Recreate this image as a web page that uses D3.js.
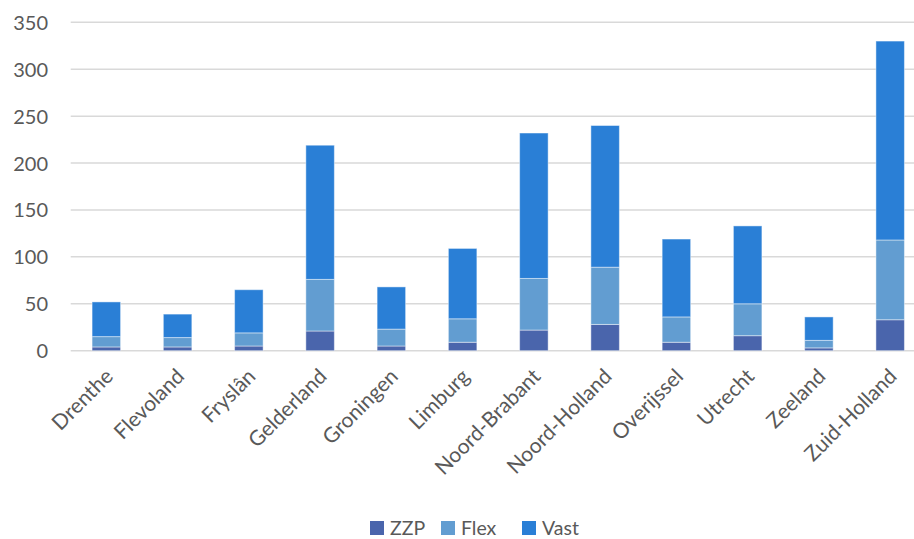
<!DOCTYPE html>
<html>
<head>
<meta charset="utf-8">
<script src="https://cdn.jsdelivr.net/npm/d3@7"></script>
<style>
  html, body { margin: 0; padding: 0; background: #ffffff; }
  svg { display: block; font-family: Lato, "Open Sans", sans-serif; }
</style>
</head>
<body>
<svg id="chart" width="914" height="539"></svg>
<script>
// Provinces and the stacked employment segments per province
const provinces = ["Drenthe", "Flevoland", "Fryslân", "Gelderland", "Groningen", "Limburg",
  "Noord-Brabant", "Noord-Holland", "Overijssel", "Utrecht", "Zeeland", "Zuid-Holland"];
const zzp  = [4, 4, 5, 21, 5, 9, 22, 28, 9, 16, 3, 33];
const flex = [11, 10, 14, 55, 18, 25, 55, 61, 27, 34, 8, 85];
const vast = [37, 25, 46, 143, 45, 75, 155, 151, 83, 83, 25, 212];
const seriesNames = ["ZZP", "Flex", "Vast"];
const seriesColors = ["#4a65ac", "#629dd1", "#2a7fd6"];
const yTicks = [0, 50, 100, 150, 200, 250, 300, 350];

const svg = d3.select("#chart");
const plot = { left: 70.7, right: 925.8, top: 22.3, bottom: 350.7 };

const rows = provinces.map((p, i) => ({ province: p, ZZP: zzp[i], Flex: flex[i], Vast: vast[i] }));
const stacked = d3.stack().keys(seriesNames)(rows);

const x = d3.scaleBand().domain(provinces).range([plot.left, plot.right])
  .paddingInner(0.6).paddingOuter(0.3);
const y = d3.scaleLinear().domain([0, 350]).range([plot.bottom, plot.top]);
const color = d3.scaleOrdinal().domain(seriesNames).range(seriesColors);

// Horizontal gridlines
svg.append("g")
  .selectAll("line")
  .data(yTicks)
  .join("line")
  .attr("x1", plot.left).attr("x2", 914)
  .attr("y1", d => y(d)).attr("y2", d => y(d))
  .attr("stroke", "#d9d9d9").attr("stroke-width", 1.5);

// Y axis labels
const yAxis = d3.axisLeft(y).tickValues(yTicks).tickSize(0).tickPadding(0);
svg.append("g")
  .attr("transform", `translate(48,0)`)
  .call(yAxis)
  .call(g => g.select(".domain").remove())
  .call(g => g.selectAll("text")
    .attr("fill", "#595959").attr("font-size", 20)
    .attr("font-family", "Lato, sans-serif").attr("dy", "0.35em"));

// Stacked bars
svg.append("g")
  .selectAll("g")
  .data(stacked)
  .join("g")
  .attr("fill", d => color(d.key))
  .selectAll("rect")
  .data(d => d)
  .join("rect")
  .attr("x", d => x(d.data.province))
  .attr("width", x.bandwidth())
  .attr("y", d => y(d[1]))
  .attr("height", d => y(d[0]) - y(d[1]))
  .attr("stroke", "rgba(255,255,255,0.45)")
  .attr("stroke-width", 1);

// Category labels, rotated
const xAxis = d3.axisBottom(x).tickSize(0).tickPadding(0);
svg.append("g")
  .attr("transform", `translate(0,${plot.bottom})`)
  .call(xAxis)
  .call(g => g.select(".domain").remove())
  .call(g => g.selectAll("text")
    .attr("fill", "#595959").attr("font-size", 21)
    .attr("font-family", "Lato, sans-serif")
    .attr("text-anchor", "end")
    .attr("dy", 0)
    .attr("transform", "translate(8,27) rotate(-45)"));

// Legend
const legendItems = [
  { name: "ZZP", x: 370 },
  { name: "Flex", x: 441 },
  { name: "Vast", x: 522 }
];
const legend = svg.append("g");
legend.selectAll("rect")
  .data(legendItems)
  .join("rect")
  .attr("x", d => d.x).attr("y", 521)
  .attr("width", 14).attr("height", 14)
  .attr("fill", d => color(d.name));
legend.selectAll("text")
  .data(legendItems)
  .join("text")
  .attr("x", d => d.x + 20).attr("y", 534.5)
  .attr("fill", "#595959").attr("font-size", 19.5)
  .text(d => d.name);
</script>
</body>
</html>
